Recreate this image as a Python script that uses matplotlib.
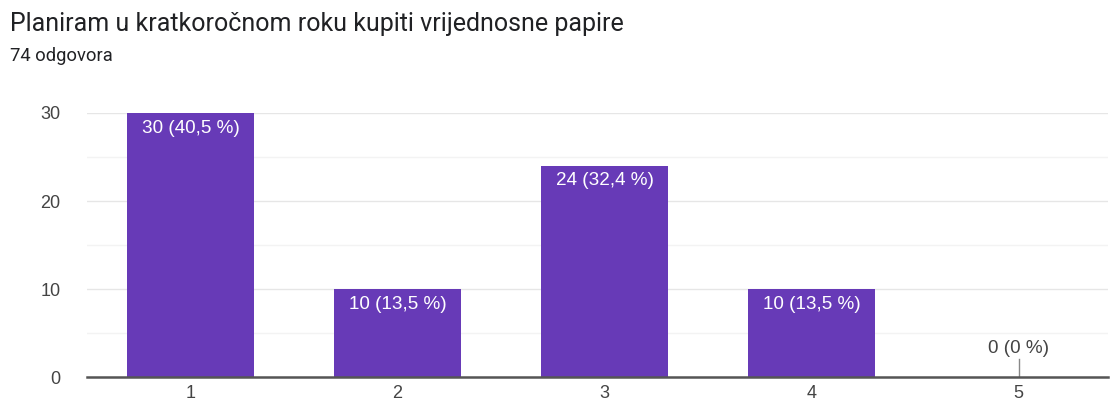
import matplotlib
matplotlib.use('Agg')
import matplotlib.pyplot as plt

title = 'Planiram u kratkoročnom roku kupiti vrijednosne papire'
subtitle = '74 odgovora'
categories = [1, 2, 3, 4, 5]
counts = [30, 10, 24, 10, 0]
labels = ['30 (40,5 %)', '10 (13,5 %)', '24 (32,4 %)', '10 (13,5 %)', '0 (0 %)']

purple = '#673ab7'
fig = plt.figure(figsize=(11.11, 4.04), dpi=100)
ax = fig.add_axes([0.0783, 0.0668, 0.9187, 0.6535])

ax.bar(categories, counts, width=0.615, color=purple, zorder=3)
ax.set_xlim(0.5, 5.43)
ax.set_ylim(0, 30)
ax.set_yticks([0, 10, 20, 30])
ax.set_yticks([5, 15, 25], minor=True)
ax.set_xticks(categories)
ax.grid(axis='y', which='major', color='#e6e6e6', lw=1, zorder=0)
ax.grid(axis='y', which='minor', color='#f3f3f3', lw=1, zorder=0)
for s in ['top', 'right', 'left']:
    ax.spines[s].set_visible(False)
ax.spines['bottom'].set_color('#555555')
ax.spines['bottom'].set_linewidth(1.8)
ax.spines['bottom'].set_zorder(4)
ax.tick_params(axis='both', which='both', length=0, labelsize=13, labelcolor='#444444',
               labelfontfamily='Liberation Sans')
ax.tick_params(axis='y', pad=19)
ax.tick_params(axis='x', pad=6)

for x, v, t in zip(categories, counts, labels):
    if v > 0:
        ax.text(x, v - 0.75, t, ha='center', va='top', color='white', fontsize=13.6,
                family='Liberation Sans', zorder=5)
    else:
        ax.plot([x, x], [0, 2], color='#888888', lw=1, zorder=4)
        ax.text(x, 2.3, t, ha='center', va='bottom', color='#444444', fontsize=13.6,
                family='Liberation Sans', zorder=5)

fig.text(0.009, 0.941, title, fontsize=18, color='#202124', family='Roboto', va='center')
fig.text(0.009, 0.861, subtitle, fontsize=13.2, color='#202124', family='Roboto', va='center')

fig.savefig('out.png', dpi=100)
